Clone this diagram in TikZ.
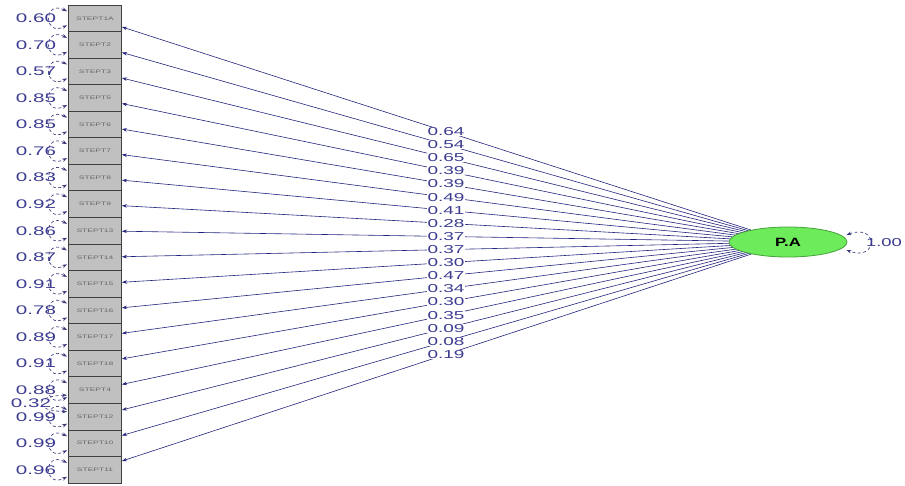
\documentclass[tikz,border=0pt]{standalone}
\usepackage{fontspec}
\setmainfont{Liberation Sans}
\usetikzlibrary{shapes.geometric,arrows.meta,calc}
\definecolor{navy}{RGB}{35,35,125}
\definecolor{lbl}{RGB}{60,60,145}
\definecolor{boxfill}{RGB}{192,192,192}
\definecolor{pagreen}{RGB}{110,235,90}
\definecolor{pagreenD}{RGB}{70,160,60}
\newcommand\sxl[1]{\scalebox{1.65}[1]{#1}}
\newcommand\sxb[1]{\scalebox{1.7}[1]{#1}}
\tikzset{
  itembox/.style={draw=black!75, line width=0.9pt, fill=boxfill, minimum width=53pt, minimum height=26.56pt, inner sep=0pt,
    font=\fontsize{5}{5}\selectfont, text=black!60},
  latent/.style={ellipse, draw=pagreenD, line width=0.8pt, fill=pagreen, minimum width=118pt, minimum height=30pt, inner sep=0pt,
    font=\fontsize{12}{12}\selectfont\bfseries},
  path/.style={draw=navy, line width=0.6pt, -{Stealth[length=5pt,width=3.5pt]}},
  errloop/.style={draw=navy!75!gray, line width=0.65pt, dash pattern=on 3pt off 2.5pt, {Stealth[length=5pt,width=3.5pt]}-{Stealth[length=5pt,width=3.5pt]}},
  coef/.style={text=lbl, font=\fontsize{11.5}{11.5}\selectfont, inner sep=0.4pt, fill=white},
  errlbl/.style={text=lbl, font=\fontsize{12.5}{12.5}\selectfont, inner sep=0pt},
}
\begin{document}
\begin{tikzpicture}[x=1pt,y=-1pt]
\useasboundingbox (0,0) rectangle (905,485);
\node[latent] (PA) at (788,242) {\scalebox{1.4}[1]{P.A}};
\foreach \nm/\ev/\cf [count=\i] in {STEPT1A/0.60/0.64, STEPT2/0.70/0.54, STEPT3/0.57/0.65, STEPT5/0.85/0.39, STEPT6/0.85/0.39, STEPT7/0.76/0.49, STEPT8/0.83/0.41, STEPT9/0.92/0.28, STEPT13/0.86/0.37, STEPT14/0.87/0.37, STEPT15/0.91/0.30, STEPT16/0.78/0.47, STEPT17/0.89/0.34, STEPT18/0.91/0.30, STEPT4/0.88/0.35, STEPT12/0.99/0.09, STEPT10/0.99/0.08, STEPT11/0.96/0.19}{
  \pgfmathsetmacro{\yc}{18.3+26.56*(\i-1)}
  \node[itembox] (b\i) at (95,\yc) {\sxb{\nm}};
  \draw[path] (PA) -- (b\i);
  \draw[errloop] ($(b\i.west)+(-1,-7)$) .. controls +(-24,-12) and +(-24,12) .. ($(b\i.west)+(-1,7)$);
  \node[errlbl] (e\i) at (36,\yc) {\sxl{\ev}};
}
\foreach \cf [count=\i] in {0.64,0.54,0.65,0.39,0.39,0.49,0.41,0.28,0.37,0.37,0.30,0.47,0.34,0.30,0.35,0.09,0.08,0.19}{
  \node[coef] (c\i) at ($(PA.center)!0.4935!(b\i.center)$) {\sxl{\cf}};
}
\draw[errloop] ($(b15.west)+(-1,5)$) .. controls +(-34,1) and +(-34,-1) .. ($(b16.west)+(-1,-5)$);
\node[errlbl] (cov) at (31,403) {\sxl{0.32}};
\draw[errloop] ($(PA.east)+(-1,-7)$) .. controls +(32,-12) and +(32,12) .. ($(PA.east)+(-1,8)$);
\node[errlbl, font=\fontsize{11.5}{11.5}\selectfont] (pav) at (884,243) {\scalebox{1.6}[1]{1.00}};
\end{tikzpicture}
\end{document}
